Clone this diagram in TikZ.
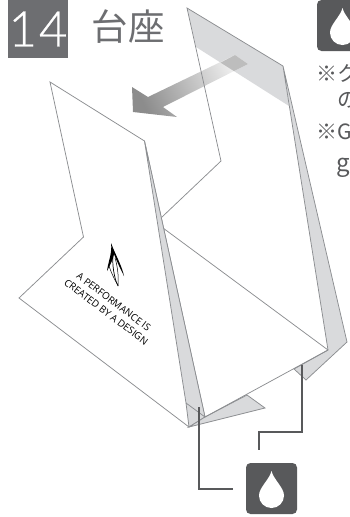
\documentclass[tikz,border=0pt]{standalone}
\usepackage{fontspec}
\setmainfont{Liberation Sans}
\newfontfamily\cjkf{Noto Sans CJK JP}
\newfontfamily\numf{Lato}[UprightFont=* Light,UprightFeatures={FakeBold=0.6}]
\newfontfamily\logof{Open Sans}
\definecolor{boxg}{RGB}{109,110,113}
\definecolor{darkg}{RGB}{88,89,91}
\definecolor{foldg}{RGB}{217,218,220}
\definecolor{lineg}{RGB}{140,142,145}
\tikzset{
  edge/.style={draw=lineg,line width=0.75pt,line join=miter},
  fold/.style={edge,fill=foldg},
  leader/.style={draw=darkg,line width=2.3pt,line cap=butt,line join=miter},
  dropbox/.style={fill=darkg,rounded corners=4.5pt,minimum size=51pt,inner sep=0pt},
  noteline/.style={text=darkg,anchor=west,inner sep=0pt,font=\cjkf\fontsize{21}{21}\selectfont},
  droplet/.pic={\fill[white] (0,-17.5) .. controls (-2,-9) and (-12.5,-1) .. (-12.5,7)
     .. controls (-12.5,14) and (-7,19.5) .. (0,19.5)
     .. controls (7,19.5) and (12.5,14) .. (12.5,7)
     .. controls (12.5,-1) and (2,-9) .. cycle;}
}
\begin{document}
\begin{tikzpicture}[x=1pt,y=-1pt]
\useasboundingbox (0,0) rectangle (350,517);
\clip (0,0) rectangle (350,517);
% title
\node[fill=boxg,minimum width=60pt,minimum height=58pt,inner sep=0pt,text=white] (num) at (38,29)
  {\numf\fontsize{49}{49}\selectfont 1\kern2pt 4};
\node[text=boxg,inner sep=0pt,anchor=center] (title) at (128,26.5) {\cjkf\fontsize{36.5}{36.5}\selectfont 台座};
% top right
\node[dropbox] (droptop) at (342.5,25.5) {};
\path (droptop.center) pic {droplet};
\node[noteline] (n1) at (316,73.5) {※ク};
\node[noteline] (n2) at (337,100) {の};
\node[noteline] (n3) at (316,131.5) {※G};
\node[noteline,font=\cjkf\fontsize{24}{24}\selectfont] (n4) at (336,168) {g};
% back panel band
\fill[foldg] (187,8) -- (283,66) -- (289,106) -- (196,47) -- cycle;
% arrow
\shade[left color=black!45,right color=black!5,shading angle=115]
  (133,112) -- (132,87) -- (148,97) -- (235,55) -- (248,64) -- (163,107) -- (177,117) -- cycle;
\begin{scope}
  \clip (187,8) -- (283,66) -- (289,106) -- (196,47) -- cycle;
  \fill[black!26] (205,71) -- (235,55) -- (248,64) -- (218,79) -- cycle;
\end{scope}
% back panel outline
\draw[edge] (283,66) -- (187,8) -- (221,161) -- (162,217);
% strip right
\draw[fold] (283,66) -- (347,342) -- (306,380) -- (294,369) -- (328,350) -- cycle;
% base back crease
\draw[edge] (163,228) -- (328,350);
% front panel
\draw[edge,fill=white] (50,82) -- (144.5,141) -- (205,417) -- (189,427) -- (19,298) -- (83.5,237) -- cycle;
% left strip
\draw[fold] (144.5,141) -- (205,417) -- (189,427) -- (186,403) -- cycle;
\draw[edge] (186,403) -- (205,417);
% bottom flap
\draw[fold] (205,417) -- (247,395) -- (265,408) -- (189,427) -- cycle;
% base front
\draw[edge] (205,417) -- (328,350);
% logo
\fill[black] (111,243) .. controls (112.5,253) and (108,262) .. (107,271)
  .. controls (110.5,264) and (113,260) .. (114,254) .. controls (117,262) and (121,270) .. (124,276)
  .. controls (122,266) and (116,256) .. (111,243) -- cycle;
\draw[black,line width=0.7pt] (113,254) .. controls (112,264) and (114,278) .. (118,286);
\draw[black,line width=0.5pt] (115,258) .. controls (117,264) and (119,276) .. (118,286);
\draw[black,line width=0.5pt] (109,266) .. controls (111,272) and (115,281) .. (118,285);
\node[rotate=-37,align=center,inner sep=0pt,text=black,font=\logof\fontsize{9.8}{12.6}\selectfont] (slogan) at (110,307)
  {A PERFORMANCE IS\\CREATED BY A DESIGN};
% bottom box and leaders
\node[dropbox] (drop) at (271.5,488.5) {};
\path (drop.center) pic {droplet};
\coordinate (a1) at (199,407);
\coordinate (a2) at (233,489);
\coordinate (b1) at (302,365);
\coordinate (b2) at (259,450);
\draw[leader] (a1) |- (a2);
\draw[leader] (b1) -- (302,432) -- (259,432) -- (b2);
\end{tikzpicture}
\end{document}
